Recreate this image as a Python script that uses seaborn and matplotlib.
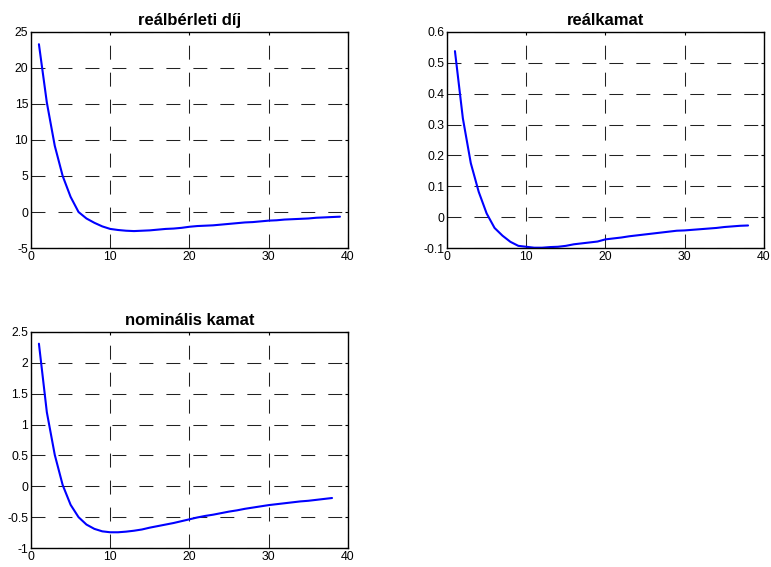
import numpy as np
import pandas as pd
import matplotlib
matplotlib.use("Agg")
import matplotlib.pyplot as plt
import seaborn as sns

# Impulse responses by period
periods_rent = list(range(1, 40))
real_rent = [23.3, 15.2, 9.2, 5.0, 2.1, 0.0, -0.9, -1.5, -2.0, -2.35,
             -2.5, -2.6, -2.65, -2.6, -2.55, -2.45, -2.35, -2.3, -2.2, -2.05,
             -1.95, -1.9, -1.85, -1.75, -1.65, -1.55, -1.45, -1.4, -1.3, -1.2,
             -1.15, -1.05, -1.0, -0.95, -0.9, -0.8, -0.75, -0.7, -0.65]

periods_rate = list(range(1, 39))
real_rate = [0.538, 0.32, 0.175, 0.082, 0.012, -0.035, -0.06, -0.08, -0.093, -0.096,
             -0.099, -0.099, -0.097, -0.096, -0.093, -0.088, -0.085, -0.082, -0.079, -0.072,
             -0.069, -0.066, -0.062, -0.059, -0.056, -0.053, -0.05, -0.047, -0.044, -0.043,
             -0.041, -0.039, -0.037, -0.035, -0.032, -0.030, -0.028, -0.027]

nominal_rate = [2.31, 1.2, 0.51, 0.02, -0.30, -0.50, -0.62, -0.69, -0.73, -0.745,
                -0.745, -0.735, -0.72, -0.70, -0.67, -0.645, -0.62, -0.595, -0.565, -0.535,
                -0.505, -0.48, -0.46, -0.435, -0.41, -0.39, -0.365, -0.345, -0.325, -0.305,
                -0.29, -0.275, -0.26, -0.245, -0.235, -0.22, -0.205, -0.19]

titles = ["reálbérleti díj", "reálkamat", "nominális kamat"]
yticks = [
    [-5, 0, 5, 10, 15, 20, 25],
    [-0.1, 0, 0.1, 0.2, 0.3, 0.4, 0.5, 0.6],
    [-1, -0.5, 0, 0.5, 1, 1.5, 2, 2.5],
]
ytick_labels = [
    ["-5", "0", "5", "10", "15", "20", "25"],
    ["-0.1", "0", "0.1", "0.2", "0.3", "0.4", "0.5", "0.6"],
    ["-1", "-0.5", "0", "0.5", "1", "1.5", "2", "2.5"],
]
xticks = [0, 10, 20, 30, 40]

sns.set_style("white")
plt.rcParams["font.family"] = ["Liberation Sans", "DejaVu Sans"]

fig = plt.figure(figsize=(7.71, 5.67), dpi=100)
positions = [
    [0.0402, 0.5626, 0.411, 0.381],
    [0.5798, 0.5626, 0.411, 0.381],
    [0.0402, 0.0335, 0.411, 0.381],
]
series = [
    (periods_rent, real_rent),
    (periods_rate, real_rate),
    (periods_rate, nominal_rate),
]

for pos, (x, y), title, yt, ytl in zip(positions, series, titles, yticks, ytick_labels):
    ax = fig.add_axes(pos)
    df = pd.DataFrame({"t": x, "v": y})
    sns.lineplot(data=df, x="t", y="v", ax=ax, color="#0000ff", linewidth=1.5)
    ax.set_xlim(0, 40)
    ax.set_ylim(yt[0], yt[-1])
    ax.set_xticks(xticks)
    ax.set_xticklabels([str(t) for t in xticks])
    ax.set_yticks(yt)
    ax.set_yticklabels(ytl)
    ax.set_xlabel("")
    ax.set_ylabel("")
    ax.grid(True, color="#222222", linestyle=(0, (13.4, 12.5)), linewidth=0.75)
    ax.set_axisbelow(True)
    ax.tick_params(direction="in", length=2.5, width=0.8, labelsize=8.8, pad=2,
                   colors="black", top=True, right=True)
    for sp in ax.spines.values():
        sp.set_color("black")
        sp.set_linewidth(1.0)
    ax.set_title(title, fontsize=12, fontweight="bold", color="black", pad=5)

fig.savefig("out.png", dpi=100)
